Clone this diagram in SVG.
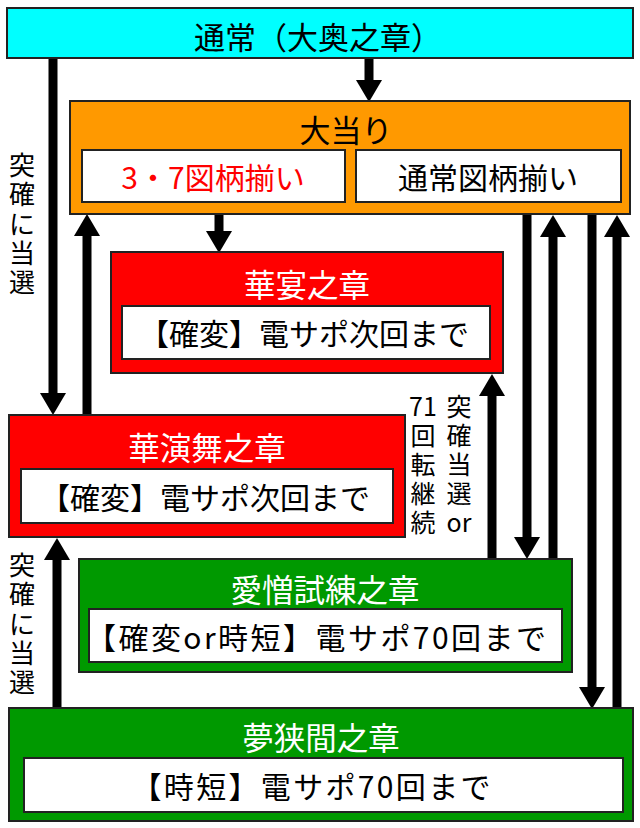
<svg xmlns="http://www.w3.org/2000/svg" width="640" height="828" viewBox="0 0 640 828">
<style>
text{font-family:"Noto Sans CJK JP","Noto Sans",sans-serif;text-anchor:middle;dominant-baseline:central}
.box{stroke:#222;stroke-width:2}
.in{fill:#fff;stroke:#222;stroke-width:2}
.t{font-size:31px}
.s{font-size:30px}
.c{font-size:31.5px;fill:#fff}
.b{font-size:30px;fill:#000}
.v{font-size:26px;fill:#000}
.m{font-size:25px;fill:#000}
.ar{stroke:#000;stroke-width:9;fill:none;marker-end:url(#ah)}
</style>
<defs>
<marker id="ah" markerUnits="userSpaceOnUse" markerWidth="22" markerHeight="26" refX="0" refY="13" orient="auto">
<path d="M0,0 L22,13 L0,26 z" fill="#000"/>
</marker>
</defs>
<rect width="640" height="828" fill="#fff"/>
<g id="connectors">
<line class="ar" x1="369" y1="58" x2="369" y2="80"/>
<line class="ar" x1="53" y1="58" x2="53" y2="393"/>
<line class="ar" x1="87" y1="415" x2="87" y2="236"/>
<line class="ar" x1="219" y1="202" x2="219" y2="231"/>
<line class="ar" x1="492" y1="558" x2="492" y2="396"/>
<line class="ar" x1="527" y1="213" x2="527" y2="537"/>
<line class="ar" x1="553" y1="558" x2="553" y2="237"/>
<line class="ar" x1="592" y1="213" x2="592" y2="687"/>
<line class="ar" x1="617" y1="708" x2="617" y2="237"/>
<line class="ar" x1="57" y1="708" x2="57" y2="560"/>
<text class="v"><tspan x="22" y="163">突</tspan><tspan x="22" y="192">確</tspan><tspan x="22" y="222">に</tspan><tspan x="22" y="251">当</tspan><tspan x="22" y="280">選</tspan></text>
<text class="v"><tspan x="22" y="563">突</tspan><tspan x="22" y="592">確</tspan><tspan x="22" y="622">に</tspan><tspan x="22" y="651">当</tspan><tspan x="22" y="680">選</tspan></text>
<text class="m"><tspan x="459" y="405">突</tspan><tspan x="459" y="434">確</tspan><tspan x="459" y="463">当</tspan><tspan x="459" y="492">選</tspan><tspan x="459" y="521">or</tspan></text>
<text class="m"><tspan x="423" y="405">71</tspan><tspan x="423" y="434">回</tspan><tspan x="423" y="463">転</tspan><tspan x="423" y="492">継</tspan><tspan x="423" y="521">続</tspan></text>
</g>
<g id="normal">
<rect class="box" x="7" y="8" width="626" height="50" fill="#00FFFF"/>
<text class="t" x="318" y="35">通常（大奥之章）</text>
</g>
<g id="oatari">
<rect class="box" x="70" y="101" width="560" height="113" fill="#FF9900"/>
<text class="t" x="346" y="128">大当り</text>
</g>
<g id="zorome37">
<rect class="in" x="82" y="150" width="263" height="52"/>
<text class="s" x="213" y="176" fill="#FF0000">3・7図柄揃い</text>
</g>
<g id="zorome-normal">
<rect class="in" x="356" y="150" width="265" height="52"/>
<text class="s" x="488" y="176">通常図柄揃い</text>
</g>
<g id="kaen">
<rect class="box" x="111" y="252" width="392" height="121" fill="#FF0000"/>
<text class="c" x="307" y="283">華宴之章</text>
<rect class="in" x="122" y="306" width="368" height="53"/>
<text class="b" x="304" y="332">【確変】電サポ次回まで</text>
</g>
<g id="kaenbu">
<rect class="box" x="9" y="415" width="396" height="122" fill="#FF0000"/>
<text class="c" x="207" y="446">華演舞之章</text>
<rect class="in" x="21" y="469" width="372" height="54"/>
<text class="b" x="205" y="496">【確変】電サポ次回まで</text>
</g>
<g id="aizou">
<rect class="box" x="79" y="559" width="493" height="113" fill="#009900"/>
<text class="c" x="325" y="588">愛憎試練之章</text>
<rect class="in" x="89" y="609" width="473" height="53"/>
<text class="b" x="316" y="636" textLength="460" lengthAdjust="spacing">【確変or時短】電サポ70回まで</text>
</g>
<g id="yumehazama">
<rect class="box" x="9" y="708" width="624" height="113" fill="#009900"/>
<text class="c" x="321" y="736">夢狭間之章</text>
<rect class="in" x="24" y="758" width="599" height="54"/>
<text class="b" x="311" y="785" textLength="359" lengthAdjust="spacing">【時短】電サポ70回まで</text>
</g>
</svg>
